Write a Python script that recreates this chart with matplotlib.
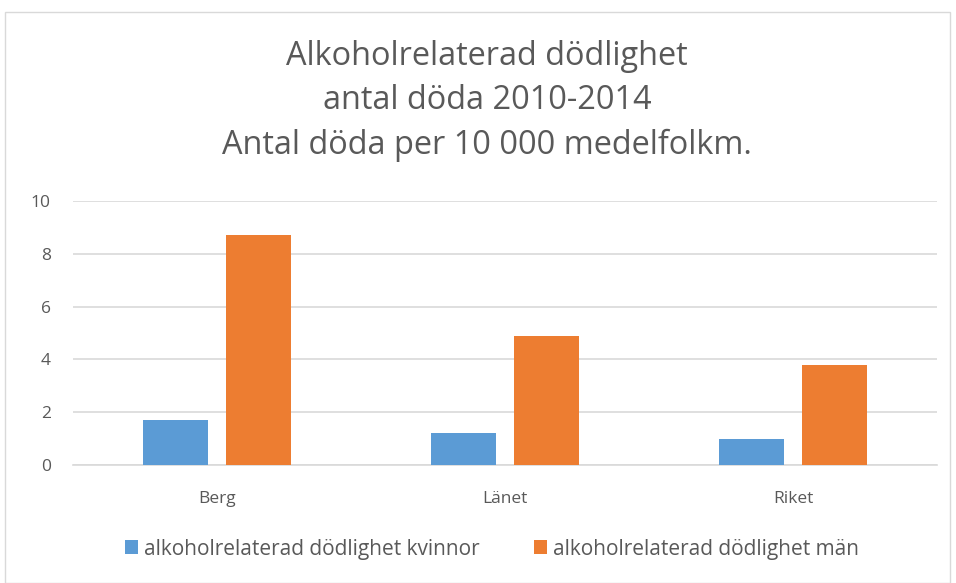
import matplotlib.pyplot as plt
import matplotlib.patches as mpatches
import numpy as np

categories = ['Berg', 'Länet', 'Riket']
kvinnor = [1.7, 1.2, 1.0]
man = [8.7, 4.9, 3.8]
series_labels = ['alkoholrelaterad dödlighet kvinnor', 'alkoholrelaterad dödlighet män']
title = 'Alkoholrelaterad dödlighet\nantal döda 2010-2014\nAntal döda per 10 000 medelfolkm.'

blue = '#5B9BD5'
orange = '#ED7D31'
txt = '#595959'
grid = '#D9D9D9'

plt.rcParams['font.family'] = ['Open Sans', 'DejaVu Sans']

fig = plt.figure(figsize=(9.56, 5.83), dpi=100)
# thin chart-area border
fig.patches.append(mpatches.Rectangle((5/956, 0), 945/956, 571/583, transform=fig.transFigure,
                                      fill=False, edgecolor='#D9D9D9', linewidth=1))
ax = fig.add_axes([73/956, 118/583, 864/956, 264/583])

x = np.arange(len(categories))
w = 0.226
ax.bar(x - 0.144, kvinnor, w, color=blue, label=series_labels[0], zorder=3)
ax.bar(x + 0.144, man, w, color=orange, label=series_labels[1], zorder=3)

ax.set_xlim(-0.5, 2.5)
ax.set_ylim(0, 10)
ax.set_yticks([0, 2, 4, 6, 8, 10])
ax.set_xticks(x)
ax.set_xticklabels(categories)
ax.yaxis.grid(True, color=grid, linewidth=1.2, zorder=0)
for s in ['top', 'right', 'left']:
    ax.spines[s].set_visible(False)
ax.spines['bottom'].set_color(grid)
ax.spines['bottom'].set_linewidth(1.2)
ax.tick_params(axis='both', length=0, colors=txt, labelsize=12.5)
ax.tick_params(axis='y', pad=16)
ax.tick_params(axis='x', pad=19)

fig.text(487/956, 1 - 101/583, title, ha='center', va='center', fontsize=23.4,
         color=txt, linespacing=1.45)

fig.legend(loc='center', bbox_to_anchor=(492/956, 1 - 549/583), ncol=2, frameon=False,
           fontsize=15, labelcolor=txt, handlelength=0.62, handleheight=0.62,
           handletextpad=0.29, columnspacing=2.6)

fig.savefig('out.png', dpi=100)
